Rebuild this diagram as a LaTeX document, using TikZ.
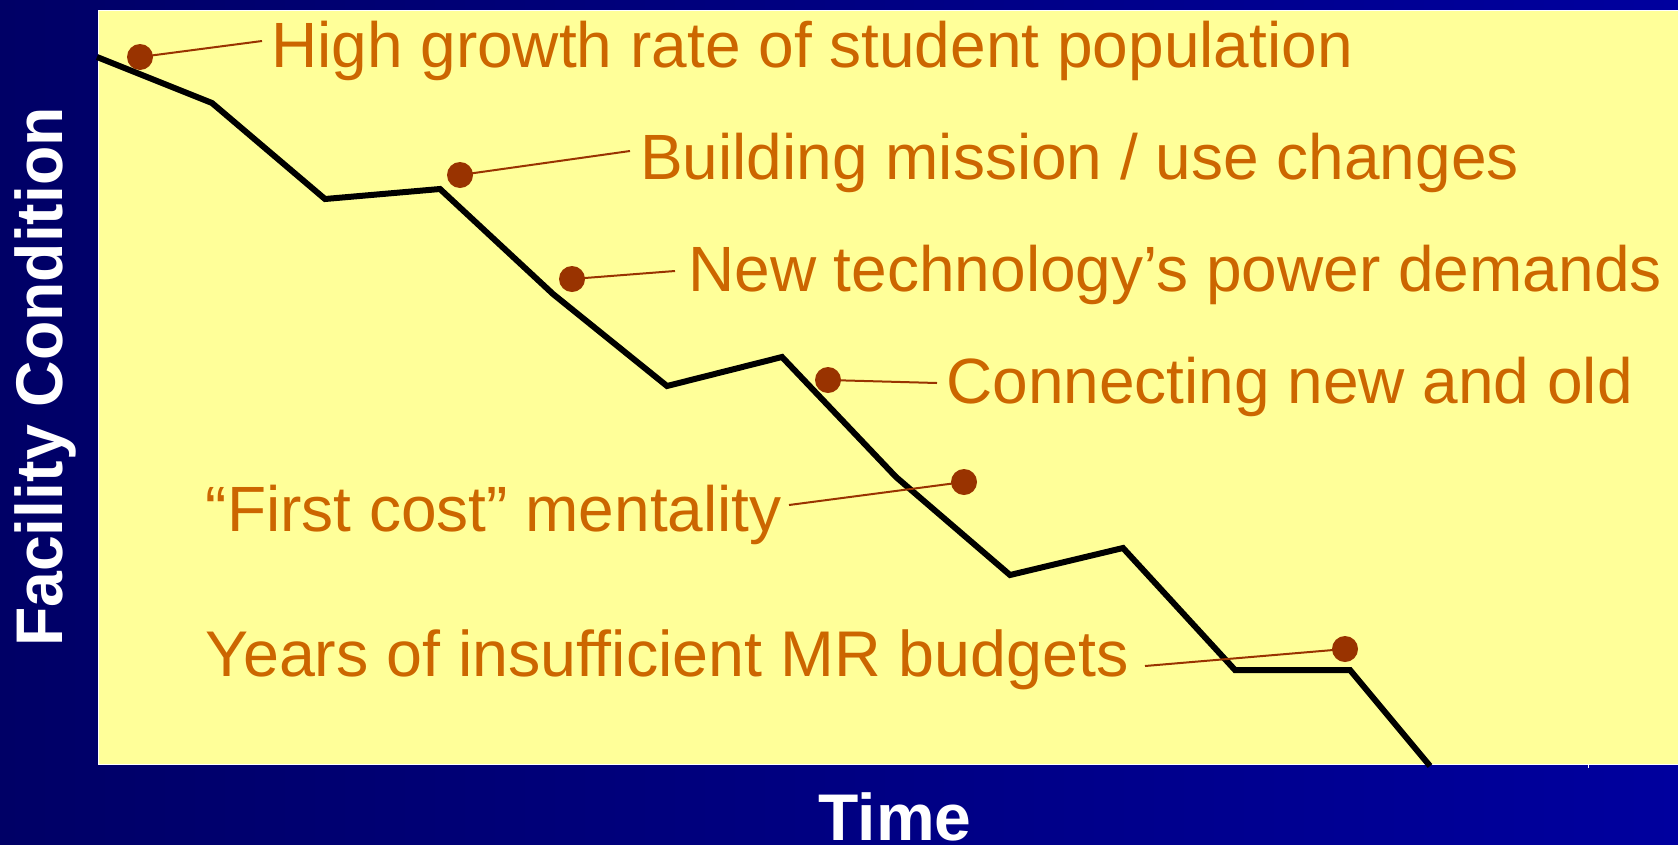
\documentclass[tikz,border=0pt]{standalone}
\usepackage{fontspec}
\usepackage{graphicx}
\setmainfont{Liberation Sans}
\definecolor{navyL}{RGB}{0,0,102}
\definecolor{navyR}{RGB}{0,0,158}
\definecolor{paper}{RGB}{255,255,153}
\definecolor{labeltxt}{RGB}{204,102,0}
\definecolor{dotc}{RGB}{153,51,0}
\tikzset{
  lbl/.style={inner sep=0pt, text=labeltxt, font=\fontsize{64}{70}\selectfont},
  dotnode/.style={circle, fill=dotc, draw=none, minimum size=26pt, inner sep=0pt},
  leader/.style={draw=dotc, line width=2pt},
  curve/.style={draw=black, line width=6pt, line join=miter},
  axislbl/.style={inner sep=0pt, text=white, font=\bfseries\fontsize{66}{72}\selectfont}
}
\begin{document}
\begin{tikzpicture}[x=1pt,y=-1pt]
\useasboundingbox (0,0) rectangle (1678,844);
\shade[left color=navyL, right color=navyR] (0,0) rectangle (1678,844);
\fill[paper] (98,10) rectangle (1680,764);
\draw[white, line width=1pt] (1680,10) -- (98,10) -- (98,764) -- (1680,764);
\draw[white, line width=1pt] (1588,764) -- (1588,768);
% the condition curve
\draw[curve] (97,57) -- (212,103) -- (325,199) -- (440,189) -- (553,294) -- (667,386)
  -- (782,357) -- (896,477) -- (1010,575) -- (1123,548) -- (1235,670) -- (1350,670) -- (1430,766);
% labels
\node[lbl, anchor=base west] (t1) at (271,67) {High growth rate of student population};
\node[lbl, anchor=base west] (t2) at (640,179) {Building mission / use changes};
\node[lbl, anchor=base west] (t3) at (688,291) {New technology’s power demands};
\node[lbl, anchor=base west] (t4) at (946,403) {Connecting new and old};
\node[lbl, anchor=base east] (t5) at (782,531) {“First cost” mentality};
\node[lbl, anchor=base east, font=\fontsize{64.6}{70}\selectfont] (t6) at (1129,676) {Years of insufficient MR budgets};
% dots
\node[dotnode] (d1) at (140,57) {};
\node[dotnode] (d2) at (460,175) {};
\node[dotnode] (d3) at (572,279) {};
\node[dotnode] (d4) at (828,380) {};
\node[dotnode] (d5) at (964,482) {};
\node[dotnode] (d6) at (1345,649) {};
% leader ends
\coordinate (e1) at (262,41);
\coordinate (e2) at (630,151);
\coordinate (e3) at (675,271);
\coordinate (e4) at (937,383);
\coordinate (e5) at (789,505);
\coordinate (e6) at (1145,666);
\draw[leader] (d1.center) -- (e1);
\draw[leader] (d2.center) -- (e2);
\draw[leader] (d3.center) -- (e3);
\draw[leader] (d4.center) -- (e4);
\draw[leader] (d5.center) -- (e5);
\draw[leader] (d6.center) -- (e6);
% axis labels
\node[axislbl, anchor=base] (time) at (895,840) {Time};
\node[axislbl, anchor=base, rotate=90] (cond) at (62,377) {\scalebox{0.975}[1]{Facility Condition}};
\end{tikzpicture}
\end{document}
